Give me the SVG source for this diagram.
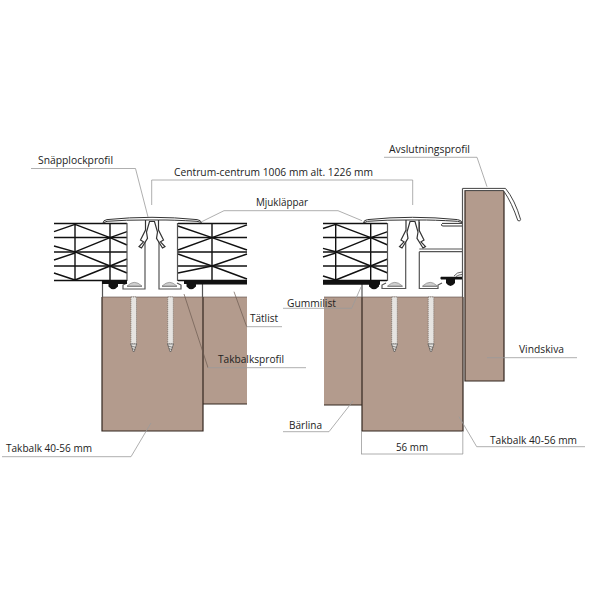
<svg xmlns="http://www.w3.org/2000/svg" xmlns:xlink="http://www.w3.org/1999/xlink" width="600" height="600" viewBox="0 0 600 600">
<style>
.wood{fill:#b39b8d;stroke:none}
.edge{fill:none;stroke:#33261f;stroke-width:1.2}
.thin{fill:none;stroke:#5c4c44;stroke-width:.6}
.panel{fill:none;stroke:#111;stroke-width:1.4}
.prof{fill:#fff;stroke:#333;stroke-width:1.2}
.line{fill:none;stroke:#555;stroke-width:1.2}
.blk{fill:#111;stroke:none}
.leader{fill:none;stroke:#9a9a9a;stroke-width:.8}
.ldark{fill:none;stroke:#6b5a50;stroke-width:.7}
.shaft{fill:#e6e4e1;stroke:#6f665e;stroke-width:.8;stroke-dasharray:1 1}
.tip{fill:#e6e4e1;stroke:#444;stroke-width:.6}
.dome{fill:#cfcfcf;stroke:#777;stroke-width:.6}
text{font-family:"Open Sans","Noto Sans",sans-serif;font-size:11px;fill:#222}
</style>
<defs>
<g id="screw">
<rect class="shaft" x="-2.8" y="297" width="5.6" height="47"/>
<path class="tip" d="M-3,344 L3,344 L1.6,348 L0.6,351.5 L-0.6,351.5 L-1.6,348 Z M-2.4,346 L2.2,347.4 M-1.6,348.6 L1.4,349.6"/>
</g>
<g id="clip">
<path class="prof" d="M-6.5,220 L-6.5,230 L-11.5,240 L-8.5,241.8 L-13,246.5 L-10.5,248 L-4.5,238.3 L-5.5,232 L-2.5,221.5 L2.5,221.5 L5.5,232 L4.5,238.3 L10.5,248 L13,246.5 L8.5,241.8 L11.5,240 L6.5,230 L6.5,220"/>
</g>
<g id="cap">
<path d="M-49,223 Q-49,220.2 -45,219.6 Q0,215 45,219.6 Q49,220.2 49.5,222.5 L45,221.3 Q20,219.8 6.5,220 L-6.5,220 Q-25,219.8 -45,221.3 Z" fill="#fff" stroke="#333" stroke-width="1"/>
</g>
<g id="base">
<path class="dome" d="M-25,286 L-21,283.2 Q-18,281.5 -14,283.2 L-10,286 Z"/>
<path class="dome" d="M10,286 L14,283.2 Q18,281.5 21,283.2 L25,286 Z"/>
<rect x="-25" y="286" width="15" height="1" fill="#8a8a8a"/>
<rect x="10" y="286" width="15" height="1" fill="#8a8a8a"/>
</g>
<g id="cell">
<path class="panel" d="M75,223.5 V280.5 M110,223.5 V280.5 M75,224.3 L110,237.6 M75,251.8 L110,237.6 M75,251.8 L110,266 M75,280 L110,266 M110,237.6 L127,231.7 M110,237.6 L127,245 M110,266 L127,259 M110,266 L127,273"/>
</g>
</defs>

<g id="wood-beams">
<rect class="wood" x="203" y="297" width="44" height="107"/>
<rect class="wood" x="102" y="297" width="101" height="134"/>
<rect class="wood" x="324" y="297" width="38" height="108"/>
<rect class="wood" x="362" y="297" width="101" height="134"/>
<rect class="wood" x="465" y="190" width="39" height="191"/>
<path class="edge" d="M102,297 V431 H203 V297"/>
<path class="edge" d="M203,404 H247"/>
<path class="thin" d="M102,297 H247"/>
<path class="edge" d="M324,405 H362"/>
<path class="edge" d="M362,297 V431 H463 V297"/>
<path class="thin" d="M324,297 H463"/>
<path class="edge" d="M465,190 H504 V381 H465 V190"/>
</g>

<g id="screws">
<use xlink:href="#screw" href="#screw" x="133.7"/>
<use xlink:href="#screw" href="#screw" x="170.5"/>
<use xlink:href="#screw" href="#screw" x="394.5"/>
<use xlink:href="#screw" href="#screw" x="431"/>
</g>

<g id="left-panels">
<path class="panel" d="M54,223.5 H127 M54,237.5 H127 M54,252 H127 M54,266 H127 M54,280.5 H127"/>
<path class="panel" d="M54,231.7 L75,224.3 M54,246 L75,251.8 M54,260 L75,253 M54,273 L75,280"/>
<use xlink:href="#cell" href="#cell"/>
<path d="M127,223 V281" class="line"/>
<path class="panel" d="M178,223.5 H247 M178,237.5 H247 M178,252 H247 M178,266 H247 M178,280.5 H247 M212,223.5 V280.5"/>
<path class="panel" d="M178,226 L212,237.6 M178,250 L212,237.6 M178,254 L212,266 M178,273 L212,266 M212,237.6 L247,224.8 M212,237.6 L247,250 M212,266 L247,254 M212,266 L247,279"/>
<path d="M177.5,223 V281" class="line"/>
</g>

<g id="left-profile">
<path class="line" d="M102.5,280 V297 M202.5,283 V297"/>
<path class="line" d="M145,240 V289 H123 V285 L127,283 M159,240 V289 H181 V285 L177,283"/>
<path class="blk" d="M102,280 H127 V284 H118 V286.5 Q113,292 108.5,286.5 V284 H102 Z"/>
<path class="blk" d="M184,280 H247 V284.4 H196 V286.5 Q191,292 186.5,286.5 V284 H184 Z"/>
<use xlink:href="#base" href="#base" x="152"/>
<use xlink:href="#clip" href="#clip" x="152"/>
<use xlink:href="#cap" href="#cap" x="152"/>
</g>

<g id="right-panel">
<path class="panel" d="M323,223.5 H387 M323,237.5 H387 M323,252 H387 M323,266 H387 M323,280.5 H387"/>
<path class="panel" d="M323,228.5 L335.7,224.3 M323,248.4 L335.7,251.8 M323,257 L335.7,253 M323,276 L335.7,280"/>
<use xlink:href="#cell" href="#cell" x="260.7"/>
<path d="M387.5,223 V281" class="line"/>
</g>

<g id="right-profile">
<path class="line" d="M362,284 V297"/>
<path class="line" d="M405.7,240 V288.5 H382 V285 L386,283"/>
<path class="line" d="M419.3,222 V238 M419.3,251.7 V288.5 H438 V285 L442,283"/>
<path class="line" d="M419.3,249 H462 M419.3,251.7 H462"/>
<path class="line" d="M462.5,188.4 V297"/>
<path d="M462.5,188.4 H505.5 Q515,200 520.6,219.5 Q520,222 517.8,220.5 Q512,203 503.5,190.6 H465" fill="#fff" stroke="#444" stroke-width="1"/>
<path class="blk" d="M323,280.7 H380 V284.7 H379 V286.5 Q374,292 369,286.5 V284.7 H323 Z"/>
<path d="M442,223.4 H462 M441.5,224.2 Q441,226 443,226 H462" fill="#fff" stroke="#333" stroke-width="1"/>
<path class="blk" d="M441,276.7 H462 V279.5 H455 V283 Q450.5,289 446,283 V279.5 H441 Q439.5,278 441,276.7 Z"/>
<path d="M454,276 Q457,272 462,272 M456,276.5 Q459,274.5 462,274.5" fill="none" stroke="#444" stroke-width=".8"/>
<use xlink:href="#base" href="#base" x="412.5"/>
<use xlink:href="#clip" href="#clip" x="412.5"/>
<use xlink:href="#cap" href="#cap" x="412.5"/>
</g>

<g id="connectors">
<path class="leader" d="M31,168.5 H135.5 L148,217"/>
<path class="leader" d="M151.7,205 V180 H412.7 V205"/>
<path class="leader" d="M201.7,221.7 L224,210.7 H338 L362,220.7"/>
<path class="leader" d="M384,157.3 H477 L487,186.7"/>
<path class="ldark" d="M234,291.7 L246.7,326.7"/>
<path class="leader" d="M246.7,326.7 H282"/>
<path class="ldark" d="M184,294 L208,367.7"/>
<path class="leader" d="M208,367.7 H306"/>
<path class="leader" d="M283,308.3 H351.7 L361,287"/>
<path class="leader" d="M487,357.7 H577"/>
<path class="leader" d="M2,456.7 H131 L151,423"/>
<path class="leader" d="M283,431.7 H329 L353,401"/>
<path class="leader" d="M459,416.7 L476.7,446.7 H585"/>
<path class="leader" d="M361.5,431 V454 M462.8,431 V454"/>
<path class="leader" d="M361,454 H463"/>
</g>

<g id="labels">
<text x="38" y="164" textLength="75" lengthAdjust="spacingAndGlyphs">Snäpplockprofil</text>
<text x="174" y="176" textLength="199" lengthAdjust="spacingAndGlyphs">Centrum-centrum 1006 mm alt. 1226 mm</text>
<text x="256" y="206" textLength="52" lengthAdjust="spacingAndGlyphs">Mjukläppar</text>
<text x="389" y="153" textLength="81" lengthAdjust="spacingAndGlyphs">Avslutningsprofil</text>
<text x="250" y="322" textLength="28" lengthAdjust="spacingAndGlyphs">Tätlist</text>
<text x="218" y="363" textLength="66" lengthAdjust="spacingAndGlyphs">Takbalksprofil</text>
<text x="287" y="307" textLength="49" lengthAdjust="spacingAndGlyphs">Gummilist</text>
<text x="519" y="353" textLength="45" lengthAdjust="spacingAndGlyphs">Vindskiva</text>
<text x="6" y="452" textLength="86" lengthAdjust="spacingAndGlyphs">Takbalk 40-56 mm</text>
<text x="289" y="429" textLength="33" lengthAdjust="spacingAndGlyphs">Bärlina</text>
<text x="490" y="444" textLength="87" lengthAdjust="spacingAndGlyphs">Takbalk 40-56 mm</text>
<text x="396" y="451" textLength="32" lengthAdjust="spacingAndGlyphs">56 mm</text>
</g>
</svg>
